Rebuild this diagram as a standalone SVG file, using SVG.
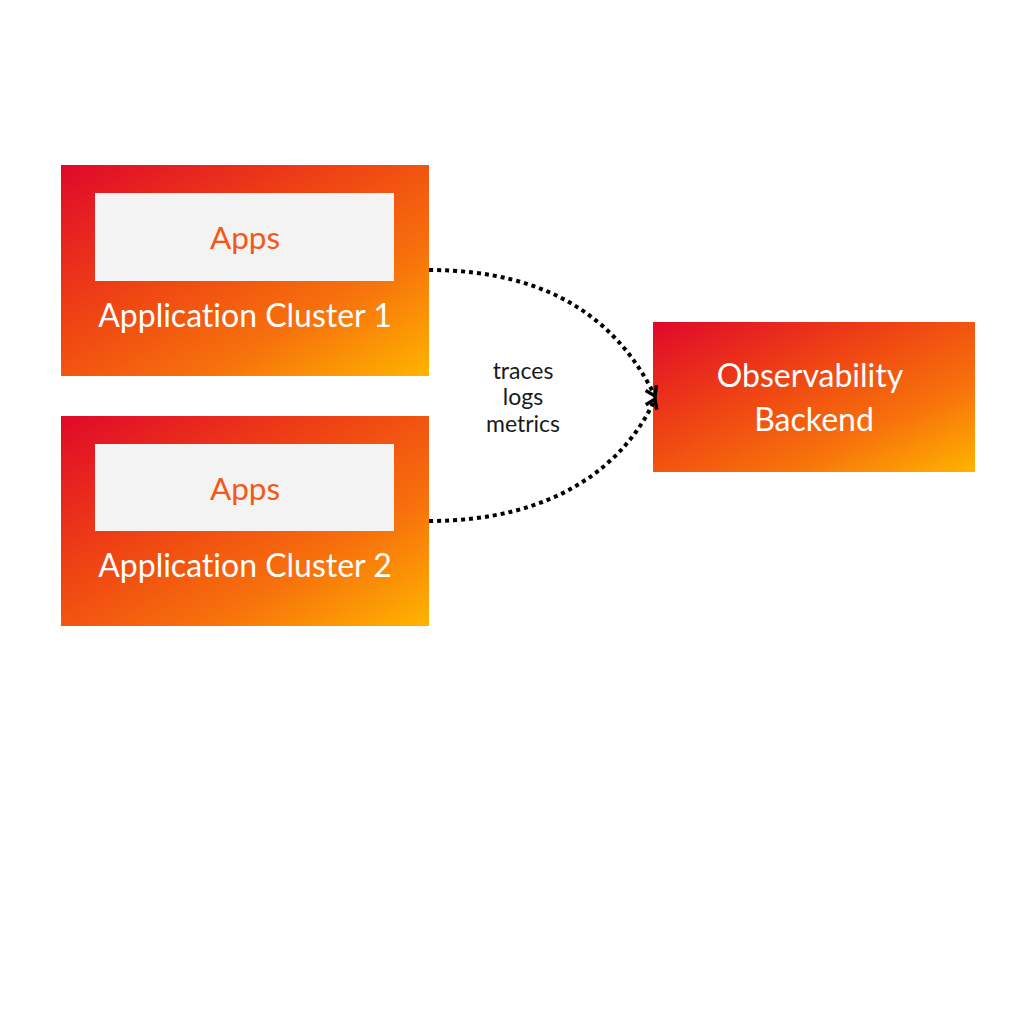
<svg xmlns="http://www.w3.org/2000/svg" width="1024" height="1024" viewBox="0 0 1024 1024">
<style>
text{font-family:Lato,"Liberation Sans",sans-serif;font-variant-ligatures:none;text-anchor:middle}
.box{fill:url(#g)}
.inner{fill:#f3f3f3}
.apps{font-size:31.5px;fill:#f45a17}
.title{font-size:32px;fill:#ffffff}
.lbl{font-size:23px;fill:#1a1a1a}
.conn{fill:none;stroke:#000;stroke-width:4;stroke-dasharray:4 4}
</style>
<defs>
<linearGradient id="g" x1="0" y1="0" x2="1" y2="1">
<stop offset="0" stop-color="#e0082a"/>
<stop offset="0.4" stop-color="#ef4513"/>
<stop offset="0.7" stop-color="#f7720c"/>
<stop offset="1" stop-color="#ffb400"/>
</linearGradient>
<marker id="arr" markerWidth="16" markerHeight="16" refX="12" refY="8" orient="auto" markerUnits="userSpaceOnUse">
<path d="M3,2 L12,8 L3,14" fill="none" stroke="#000" stroke-width="3.5"/>
</marker>
</defs>
<rect width="1024" height="1024" fill="#ffffff"/>
<g id="cluster1">
<rect class="box" x="61" y="165" width="368" height="211"/>
<rect class="inner" x="95" y="193" width="299" height="88"/>
<text class="apps" x="245" y="249">Apps</text>
<text class="title" x="245" y="327">Application Cluster 1</text>
</g>
<g id="cluster2">
<rect class="box" x="61" y="416" width="368" height="210"/>
<rect class="inner" x="95" y="444" width="299" height="87"/>
<text class="apps" x="245" y="500">Apps</text>
<text class="title" x="245" y="577">Application Cluster 2</text>
</g>
<g id="backend">
<rect class="box" x="653" y="322" width="322" height="150"/>
<text class="title" x="810" y="387">Observability</text>
<text class="title" x="814" y="431">Backend</text>
</g>
<g id="connectors">
<path class="conn" d="M429,270 C555,270 620,325 655,396" marker-end="url(#arr)"/>
<path class="conn" d="M429,521 C555,521 625,465 655,399" marker-end="url(#arr)"/>
<text class="lbl" x="523" y="379">traces</text>
<text class="lbl" x="523" y="405">logs</text>
<text class="lbl" x="523" y="432">metrics</text>
</g>
</svg>
